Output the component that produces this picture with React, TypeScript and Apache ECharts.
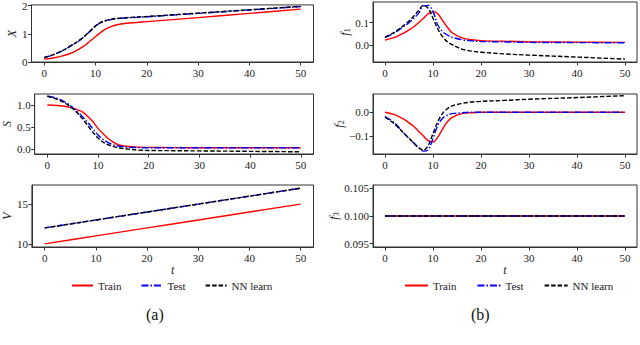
import React, { useEffect, useRef } from "react";
import * as echarts from "echarts";

// ---------- data ----------
const tCurve = [0, 2, 4, 5, 6, 7, 8, 9, 10, 11, 12, 13, 14, 16, 18, 20, 25, 30, 40, 50];
const tLine = [0, 10, 20, 30, 40, 50];
const tConst = [0, 50];
const xTicks = [0, 10, 20, 30, 40, 50];
const seriesNames = ["Train", "Test", "NN learn"];

const xTrain = [0.10, 0.15, 0.24, 0.30, 0.38, 0.48, 0.60, 0.75, 0.90, 1.05, 1.17, 1.25, 1.31, 1.37, 1.40, 1.43, 1.50, 1.57, 1.72, 1.87];
const xTest = [0.15, 0.27, 0.44, 0.55, 0.66, 0.78, 0.93, 1.10, 1.27, 1.39, 1.46, 1.50, 1.53, 1.56, 1.58, 1.60, 1.66, 1.72, 1.84, 1.96];
const xNN = [0.16, 0.28, 0.45, 0.56, 0.67, 0.79, 0.94, 1.11, 1.28, 1.40, 1.47, 1.51, 1.54, 1.57, 1.59, 1.61, 1.67, 1.73, 1.85, 1.97];

const sTrain = [1.00, 0.99, 0.96, 0.93, 0.89, 0.84, 0.74, 0.62, 0.47, 0.35, 0.24, 0.16, 0.10, 0.06, 0.045, 0.04, 0.035, 0.03, 0.03, 0.03];
const sTest = [1.20, 1.15, 1.03, 0.94, 0.84, 0.73, 0.60, 0.46, 0.32, 0.22, 0.15, 0.10, 0.07, 0.04, 0.035, 0.03, 0.03, 0.03, 0.03, 0.03];
const sNN = [1.20, 1.13, 1.01, 0.92, 0.81, 0.68, 0.53, 0.38, 0.25, 0.16, 0.10, 0.06, 0.03, 0.00, -0.02, -0.03, -0.035, -0.04, -0.05, -0.06];

const vTrain = [10, 11, 12, 13, 14, 15];
const vTest = [12, 13, 14, 15, 16, 17];
const vNN = [12, 13, 14, 15, 16, 17];

const f1Train = [0.022, 0.034, 0.055, 0.068, 0.082, 0.10, 0.12, 0.14, 0.15, 0.14, 0.11, 0.08, 0.055, 0.032, 0.024, 0.02, 0.017, 0.015, 0.013, 0.012];
const f1Test = [0.033, 0.055, 0.085, 0.10, 0.12, 0.142, 0.176, 0.178, 0.15, 0.09, 0.06, 0.045, 0.035, 0.024, 0.019, 0.016, 0.014, 0.012, 0.011, 0.01];
const f1NN = [0.035, 0.058, 0.09, 0.108, 0.13, 0.155, 0.178, 0.165, 0.12, 0.072, 0.037, 0.015, 0.002, -0.018, -0.027, -0.032, -0.04, -0.045, -0.054, -0.063];

const f2Train = [0.0, -0.01, -0.03, -0.045, -0.06, -0.08, -0.10, -0.12, -0.125, -0.105, -0.07, -0.04, -0.022, -0.006, -0.002, 0, 0, 0, 0, 0];
const f2Test = [-0.018, -0.045, -0.09, -0.11, -0.13, -0.15, -0.164, -0.158, -0.11, -0.055, -0.025, -0.012, -0.006, -0.002, 0, 0, 0, 0, 0, 0];
const f2NN = [-0.02, -0.05, -0.09, -0.11, -0.13, -0.148, -0.16, -0.14, -0.09, -0.04, -0.005, 0.015, 0.027, 0.037, 0.043, 0.046, 0.05, 0.055, 0.062, 0.07];

const f3Train = [0.1, 0.1];
const f3Test = [0.1, 0.1];
const f3NN = [0.1, 0.1];

const xYTicks = [0, 1, 2];
const xYLabels = ["0", "1", "2"];
const sYTicks = [0, 0.5, 1];
const sYLabels = ["0.0", "0.5", "1.0"];
const vYTicks = [10, 15];
const vYLabels = ["10", "15"];
const f1YTicks = [0, 0.1];
const f1YLabels = ["0.0", "0.1"];
const f2YTicks = [-0.1, 0];
const f2YLabels = ["\u22120.1", "0.0"];
const f3YTicks = [0.095, 0.1, 0.105];
const f3YLabels = ["0.095", "0.100", "0.105"];

// ---------- layout / style ----------
const FONT = "'Liberation Serif', 'DejaVu Serif', serif";
const COLORS = ["#ff0000", "#0000ff", "#000000"];
const DASHES: any[] = ["solid", [7, 2, 1.5, 2], [4.5, 2]];

const panels = [
  { grid: { left: 31.5, top: 2, width: 282, height: 60 }, min: 0, max: 2.02, ticks: xYTicks, labels: xYLabels, name: "X", rich: false, nameGap: 14, t: tCurve, data: [xTrain, xTest, xNN], bottom: false },
  { grid: { left: 31.5, top: 94, width: 282, height: 60 }, min: -0.11, max: 1.25, ticks: sYTicks, labels: sYLabels, name: "S", rich: false, nameGap: 21, t: tCurve, data: [sTrain, sTest, sNN], bottom: false },
  { grid: { left: 31.5, top: 185, width: 282, height: 62 }, min: 9.6, max: 17.4, ticks: vYTicks, labels: vYLabels, name: "V", rich: false, nameGap: 15, t: tLine, data: [vTrain, vTest, vNN], bottom: true },
  { grid: { left: 373, top: 2, width: 264, height: 60 }, min: -0.076, max: 0.193, ticks: f1YTicks, labels: f1YLabels, name: "{f|f}{s|1}", rich: true, nameGap: 21, t: tCurve, data: [f1Train, f1Test, f1NN], bottom: false },
  { grid: { left: 373, top: 94, width: 264, height: 60 }, min: -0.176, max: 0.077, ticks: f2YTicks, labels: f2YLabels, name: "{f|f}{s|2}", rich: true, nameGap: 27, t: tCurve, data: [f2Train, f2Test, f2NN], bottom: false },
  { grid: { left: 373, top: 185, width: 264, height: 62 }, min: 0.0944, max: 0.1056, ticks: f3YTicks, labels: f3YLabels, name: "{f|f}{s|3}", rich: true, nameGap: 33, t: tConst, data: [f3Train, f3Test, f3NN], bottom: true },
];

function labelFor(ticks: number[], labels: string[]) {
  return (v: number) => {
    let best = 0;
    for (let i = 1; i < ticks.length; i++) {
      if (Math.abs(ticks[i] - v) < Math.abs(ticks[best] - v)) best = i;
    }
    return labels[best];
  };
}

export default function App() {
  const ref = useRef<HTMLDivElement>(null);
  useEffect(() => {
    if (!ref.current) return;
    const chart = echarts.init(ref.current, undefined, { renderer: "svg" });
    const axisColor = "#333";
    const labelStyle = { fontFamily: FONT, fontSize: 11, color: "#222" };

    const grids = panels.map((p) => ({
      ...p.grid,
      show: true,
      borderColor: axisColor,
      borderWidth: 1,
      backgroundColor: "transparent",
      containLabel: false,
    }));

    const xAxes = panels.map((p, i) => ({
      type: "value",
      gridIndex: i,
      min: -2.5,
      max: 52.5,
      axisLine: { show: true, onZero: false, lineStyle: { color: axisColor, width: 1 } },
      axisTick: { show: true, length: 3.5, customValues: xTicks, lineStyle: { color: axisColor } },
      axisLabel: { ...labelStyle, margin: 5, customValues: xTicks, formatter: (v: number) => String(Math.round(v)) },
      splitLine: { show: false },
      name: p.bottom ? "t" : "",
      nameLocation: "middle",
      nameGap: 14,
      nameTextStyle: { fontFamily: FONT, fontSize: 12, fontStyle: "italic", color: "#222" },
    }));

    const yAxes = panels.map((p, i) => ({
      type: "value",
      gridIndex: i,
      min: p.min,
      max: p.max,
      axisLine: { show: true, onZero: false, lineStyle: { color: axisColor, width: 1 } },
      axisTick: { show: true, length: 3.5, customValues: p.ticks, lineStyle: { color: axisColor } },
      axisLabel: { ...labelStyle, margin: 4, customValues: p.ticks, formatter: labelFor(p.ticks, p.labels) },
      splitLine: { show: false },
      name: p.name,
      nameLocation: "middle",
      nameRotate: 90,
      nameGap: p.nameGap,
      nameTextStyle: p.rich
        ? {
            rich: {
              f: { fontFamily: FONT, fontSize: 12, fontStyle: "italic", color: "#222" },
              s: { fontFamily: FONT, fontSize: 8, color: "#222", padding: [5, 0, 0, 0], verticalAlign: "bottom" },
            },
          }
        : { fontFamily: FONT, fontSize: 12, fontStyle: "italic", color: "#222" },
    }));

    const series: any[] = [];
    panels.forEach((p, i) => {
      p.data.forEach((vals, k) => {
        series.push({
          type: "line",
          name: seriesNames[k],
          xAxisIndex: i,
          yAxisIndex: i,
          data: p.t.map((t, j) => [t, vals[j]]),
          showSymbol: false,
          symbol: "none",
          smooth: 0.35,
          lineStyle: { color: COLORS[k], width: 1.4, type: DASHES[k] },
          itemStyle: { color: COLORS[k] },
          z: 2 + k,
        });
      });
    });

    const legendBase = {
      orient: "horizontal",
      top: 275,
      itemHeight: 10,
      data: seriesNames,
      itemStyle: { opacity: 0 },
      textStyle: { fontFamily: FONT, fontSize: 11, color: "#222" },
      selectedMode: false,
    };

    chart.setOption({
      animation: false,
      backgroundColor: "#ffffff",
      grid: grids,
      xAxis: xAxes,
      yAxis: yAxes,
      series,
      legend: [
        { ...legendBase, left: 66, itemWidth: 21, itemGap: 19 },
        { ...legendBase, left: 399, itemWidth: 23, itemGap: 20 },
      ],
      graphic: [
        { type: "text", left: 146, top: 306, style: { text: "(a)", fontFamily: FONT, fontSize: 16, fill: "#111" } },
        { type: "text", left: 471, top: 306, style: { text: "(b)", fontFamily: FONT, fontSize: 16, fill: "#111" } },
      ],
    });
    return () => chart.dispose();
  }, []);
  return (
    <div
      ref={ref}
      style={{ position: "fixed", left: 0, top: 0, width: 640, height: 345 }}
    />
  );
}
